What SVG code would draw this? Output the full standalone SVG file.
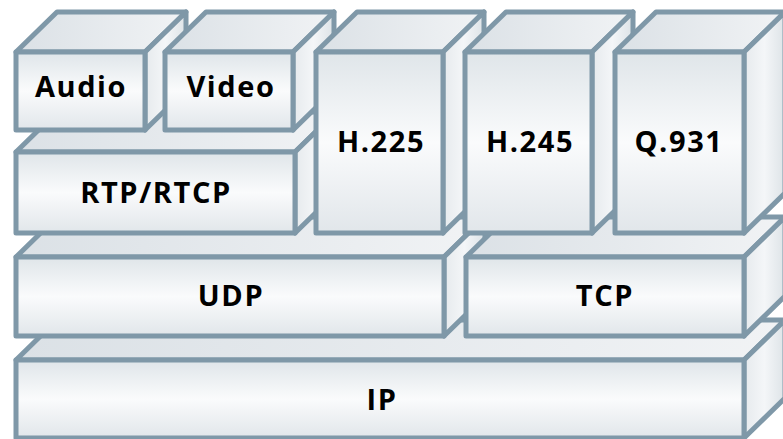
<svg xmlns="http://www.w3.org/2000/svg" width="783" height="439" viewBox="0 0 783 439">
  <defs>
    <!-- front faces: soft highlight across the middle -->
    <linearGradient id="gFront" x1="0" y1="0" x2="0" y2="1">
      <stop offset="0" stop-color="#dfe5e9"/>
      <stop offset="0.5" stop-color="#fafbfc"/>
      <stop offset="1" stop-color="#e1e6ea"/>
    </linearGradient>
    <!-- top faces: brighten toward the back right -->
    <linearGradient id="gTop" x1="0" y1="0" x2="1" y2="0">
      <stop offset="0" stop-color="#dbe1e6"/>
      <stop offset="1" stop-color="#f1f3f5"/>
    </linearGradient>
    <!-- side faces -->
    <linearGradient id="gSide" x1="0" y1="0" x2="1" y2="0">
      <stop offset="0" stop-color="#e6eaed"/>
      <stop offset="0.5" stop-color="#f4f6f8"/>
      <stop offset="1" stop-color="#dde3e7"/>
    </linearGradient>
  </defs>
  <style>
    .front { fill: url(#gFront); }
    .top { fill: url(#gTop); }
    .side { fill: url(#gSide); }
    .front, .top, .side { stroke: #7f98a8; stroke-width: 5; stroke-linejoin: round; }
    .lbl { font-family: "Open Sans", "DejaVu Sans", sans-serif; font-weight: 700; font-size: 29px; letter-spacing: 1.6px; fill: #000; text-anchor: middle; }
  </style>

  <rect width="783" height="439" fill="#ffffff"/>

  <!-- bottom layer -->
  <g id="ip">
    <polygon class="top" points="16,360 57,320 785,320 744,360"/>
    <polygon class="side" points="744,360 785,320 785,398 744,438"/>
    <rect class="front" x="16" y="360" width="728" height="78"/>
    <text class="lbl" x="382" y="410">IP</text>
  </g>

  <!-- transport layer -->
  <g id="udp">
    <polygon class="top" points="16,257 57,217 485,217 444,257"/>
    <polygon class="side" points="444,257 485,217 485,296 444,336"/>
    <rect class="front" x="16" y="257" width="428" height="79"/>
    <text class="lbl" x="231" y="306">UDP</text>
  </g>
  <g id="tcp">
    <polygon class="top" points="466,257 507,217 785,217 744,257"/>
    <polygon class="side" points="744,257 785,217 785,296 744,336"/>
    <rect class="front" x="466" y="257" width="278" height="79"/>
    <text class="lbl" x="605" y="306">TCP</text>
  </g>

  <g id="rtp">
    <polygon class="top" points="16,152 57,112 336,112 295,152"/>
    <polygon class="side" points="295,152 336,112 336,193 295,233"/>
    <rect class="front" x="16" y="152" width="279" height="81"/>
    <text class="lbl" x="156" y="203">RTP/RTCP</text>
  </g>

  <!-- top row -->
  <g id="audio">
    <polygon class="top" points="16,52 57,12 186,12 145,52"/>
    <polygon class="side" points="145,52 186,12 186,90 145,130"/>
    <rect class="front" x="16" y="52" width="129" height="78"/>
    <text class="lbl" x="81" y="97">Audio</text>
  </g>
  <g id="video">
    <polygon class="top" points="165,52 206,12 334,12 293,52"/>
    <polygon class="side" points="293,52 334,12 334,90 293,130"/>
    <rect class="front" x="165" y="52" width="128" height="78"/>
    <text class="lbl" x="231" y="97">Video</text>
  </g>
  <g id="h225">
    <polygon class="top" points="316,52 357,12 484,12 443,52"/>
    <polygon class="side" points="443,52 484,12 484,193 443,233"/>
    <rect class="front" x="316" y="52" width="127" height="181"/>
    <text class="lbl" x="381" y="152">H.225</text>
  </g>
  <g id="h245">
    <polygon class="top" points="465,52 506,12 633,12 592,52"/>
    <polygon class="side" points="592,52 633,12 633,193 592,233"/>
    <rect class="front" x="465" y="52" width="127" height="181"/>
    <text class="lbl" x="530" y="152">H.245</text>
  </g>
  <g id="q931">
    <polygon class="top" points="615,52 656,12 785,12 744,52"/>
    <polygon class="side" points="744,52 785,12 785,193 744,233"/>
    <rect class="front" x="615" y="52" width="129" height="181"/>
    <text class="lbl" x="679" y="152">Q.931</text>
  </g>
</svg>
